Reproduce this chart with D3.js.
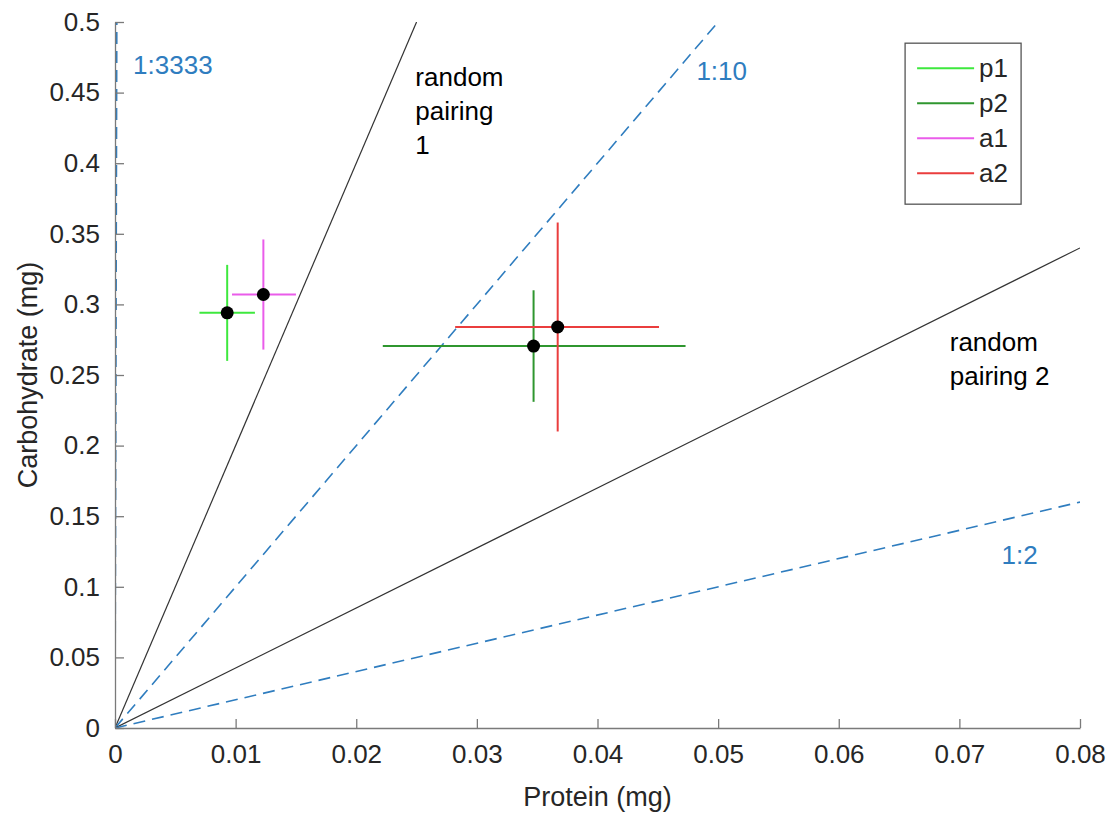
<!DOCTYPE html>
<html>
<head>
<meta charset="utf-8">
<script src="https://cdn.jsdelivr.net/npm/d3@7"></script>
<style>
  body { margin: 0; background: #fff; }
  svg { font-family: "Liberation Sans", Arial, sans-serif; }
</style>
</head>
<body>
<figure style="margin:0"></figure>
<script>
// groups and their mean / error bar extents
const groups = ['p1', 'p2', 'a1', 'a2']
const colors = ['#3ee83e', '#2f962f', '#ea5cea', '#ea3d3d']
const protein = [0.0093, 0.0347, 0.0123, 0.0367]
const carbo   = [0.294, 0.2705, 0.307, 0.284]
const protLo  = [0.0070, 0.0222, 0.0097, 0.0282]
const protHi  = [0.0116, 0.0473, 0.0150, 0.0451]
const carbLo  = [0.260, 0.231, 0.268, 0.210]
const carbHi  = [0.328, 0.310, 0.346, 0.358]

// reference lines through the origin (end points)
const refNames = ['1:3333', 'random pairing 1', '1:10', 'random pairing 2', '1:2']
const refEndX  = [0.00015, 0.025, 0.05, 0.08, 0.08]
const refEndY  = [0.5, 0.5, 0.5, 0.34, 0.16]
const refDash  = [true, false, true, false, true]

const xTicks = [0, 0.01, 0.02, 0.03, 0.04, 0.05, 0.06, 0.07, 0.08]
const yTicks = [0, 0.05, 0.1, 0.15, 0.2, 0.25, 0.3, 0.35, 0.4, 0.45, 0.5]

const W = 1112, H = 813
const margin = {top: 22, right: 32, bottom: 85, left: 115}
const width = W - margin.left - margin.right,
      height = H - margin.top - margin.bottom

const svg = d3.select('figure').append('svg').attr('width', W).attr('height', H)
const g = svg.append('g').attr('transform', `translate(${margin.left},${margin.top})`)

const x = d3.scaleLinear().domain([0, 0.08]).range([0, width])
const y = d3.scaleLinear().domain([0, 0.5]).range([height, 0])

const blue = '#2f7dbf', axisCol = '#7a7a7a', txt = '#262626'

g.append('defs').append('clipPath').attr('id', 'clip')
  .append('rect').attr('width', width).attr('height', height)

// reference lines
const lines = g.append('g').attr('clip-path', 'url(#clip)')
refNames.forEach((n, i) => {
  lines.append('line')
    .attr('x1', x(0)).attr('y1', y(0))
    .attr('x2', x(refEndX[i])).attr('y2', y(refEndY[i]))
    .attr('stroke', refDash[i] ? blue : '#333')
    .attr('stroke-width', refDash[i] ? 1.6 : 1.2)
    .attr('stroke-dasharray', refDash[i] ? '12,7' : null)
})

// axes
const fmt = d => String(+d.toFixed(2))
const xAxis = g.append('g').attr('transform', `translate(0,${height})`)
  .call(d3.axisBottom(x).tickValues(xTicks).tickSizeInner(-9).tickSizeOuter(0).tickPadding(13).tickFormat(fmt))
const yAxis = g.append('g')
  .call(d3.axisLeft(y).tickValues(yTicks).tickSizeInner(-9).tickSizeOuter(0).tickPadding(15).tickFormat(fmt))
;[xAxis, yAxis].forEach(a => {
  a.selectAll('path, line').attr('stroke', axisCol).attr('stroke-width', 1.3)
  a.selectAll('text').attr('fill', txt).style('font-size', '26px')
})
xAxis.selectAll('text').attr('dy', '0.85em')

// error bars
groups.forEach((n, i) => {
  g.append('line')
    .attr('x1', x(protLo[i])).attr('x2', x(protHi[i]))
    .attr('y1', y(carbo[i])).attr('y2', y(carbo[i]))
    .attr('stroke', colors[i]).attr('stroke-width', 2)
  g.append('line')
    .attr('x1', x(protein[i])).attr('x2', x(protein[i]))
    .attr('y1', y(carbLo[i])).attr('y2', y(carbHi[i]))
    .attr('stroke', colors[i]).attr('stroke-width', 2)
})
g.selectAll('circle.pt').data(groups).join('circle')
  .attr('class', 'pt')
  .attr('cx', (d, i) => x(protein[i])).attr('cy', (d, i) => y(carbo[i]))
  .attr('r', 6.5).attr('fill', '#000')

// line annotations
const ann = [
  {lines: ['1:3333'], px: 0.0015, py: 0.463, c: blue},
  {lines: ['random', 'pairing', '1'], px: 0.0249, py: 0.455, c: '#000'},
  {lines: ['1:10'], px: 0.0482, py: 0.459, c: blue},
  {lines: ['random', 'pairing 2'], px: 0.0692, py: 0.267, c: '#000'},
  {lines: ['1:2'], px: 0.0735, py: 0.116, c: blue}
]
ann.forEach(a => {
  const t = g.append('text').attr('x', x(a.px)).attr('y', y(a.py))
    .attr('fill', a.c).style('font-size', '26px')
  a.lines.forEach((l, j) => t.append('tspan').attr('x', x(a.px)).attr('dy', j ? 34 : 0).text(l))
})

// axis titles
svg.append('text').attr('x', margin.left + width / 2).attr('y', 806)
  .attr('text-anchor', 'middle').attr('fill', txt).style('font-size', '27px').text('Protein (mg)')
svg.append('text').attr('transform', `translate(37,${margin.top + height / 2}) rotate(-90)`)
  .attr('text-anchor', 'middle').attr('fill', txt).style('font-size', '27px').text('Carbohydrate (mg)')

// legend
const leg = g.append('g').attr('transform', `translate(${x(0.0655)},${y(0.485)})`)
leg.append('rect').attr('width', 116).attr('height', 161)
  .attr('fill', '#fff').attr('stroke', '#555').attr('stroke-width', 1.3)
groups.forEach((n, i) => {
  const ly = 25 + i * 35
  leg.append('line').attr('x1', 12).attr('x2', 69).attr('y1', ly).attr('y2', ly)
    .attr('stroke', colors[i]).attr('stroke-width', 2)
  leg.append('text').attr('x', 74).attr('y', ly + 9).attr('fill', txt)
    .style('font-size', '26px').text(n)
})
</script>
</body>
</html>
